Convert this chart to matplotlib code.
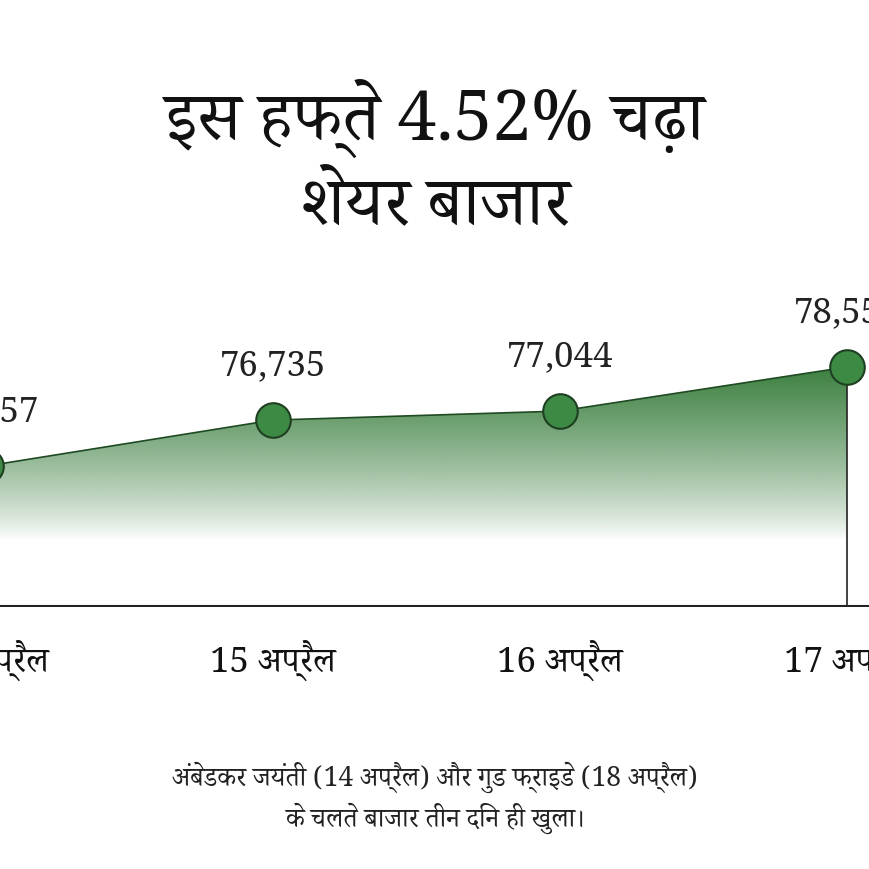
import matplotlib
matplotlib.use('Agg')
import matplotlib.pyplot as plt
import matplotlib.font_manager as fm
import numpy as np
from matplotlib.patches import Polygon

# pick a font with Devanagari glyphs if any is installed
names = {f.name for f in fm.fontManager.ttflist}
deva = [n for n in names if 'Devanagari' in n or 'Lohit' in n or 'Mukta' in n or 'Hind' in n]
plt.rcParams['font.family'] = deva[:1] + ['Noto Sans', 'DejaVu Sans']

days = ['14 अप्रैल', '15 अप्रैल', '16 अप्रैल', '17 अप्रैल']
values = [75157, 76735, 77044, 78553]
value_labels = ['75,157', '76,735', '77,044', '78,553']
title = 'इस हफ्ते 4.52% चढ़ा\nशेयर बाजार'
note = 'अंबेडकर जयंती (14 अप्रैल) और गुड फ्राइडे (18 अप्रैल)\nके चलते बाजार तीन दिन ही खुला।'

green = '#3b7f3f'

fig = plt.figure(figsize=(8.7, 8.7), dpi=100)
ax = fig.add_axes([0, 0.301, 1, 0.699])
x = np.arange(len(values))
ax.set_xlim(0.049, 0.049 + 870 / 287)
ax.set_ylim(70321, 91175)
ax.axis('off')

# gradient fill under the line
ybot = 70321
grad = np.linspace(0, 1, 256)
rgba = np.zeros((256, 1, 4))
rgba[..., :3] = matplotlib.colors.to_rgb(green)
rgba[:, 0, 3] = np.clip((grad - 0.28) / 0.72, 0, 1) ** 0.8
img = ax.imshow(rgba, extent=[x[0], x[-1], ybot, max(values)], origin='lower',
                aspect='auto', zorder=1)
poly = Polygon(list(zip(x, values)) + [(x[-1], ybot), (x[0], ybot)], closed=True,
               transform=ax.transData, facecolor='none', edgecolor='none')
ax.add_patch(poly)
img.set_clip_path(poly)

ax.plot(x, values, color='#1f4a22', lw=1.2, zorder=2)
ax.plot([x[-1], x[-1]], [ybot, values[-1]], color='#222222', lw=1.2, zorder=2)
ax.axhline(ybot + 30, color='#222222', lw=1.5, zorder=2)
ax.scatter(x, values, s=620, color='#3d8a45', edgecolor='#1f3f22', lw=1.5, zorder=3)

for xi, v, lab in zip(x, values, value_labels):
    ax.text(xi, v + 1300, lab, ha='center', va='bottom', fontsize=25, color='#222222')

for xi, d in zip(x, days):
    fig.text((-14 + 287 * xi) / 870, 1 - 660 / 870, d, ha='center', va='center',
             fontsize=25, color='#111111')

fig.text(0.5, 1 - 160 / 870, title, ha='center', va='center', fontsize=50,
         fontweight='bold', color='#111111', linespacing=1.25)
fig.text(0.5, 1 - 798 / 870, note, ha='center', va='center', fontsize=19,
         style='italic', color='#222222', linespacing=1.4)

fig.savefig('out.png', dpi=100, facecolor='white')
